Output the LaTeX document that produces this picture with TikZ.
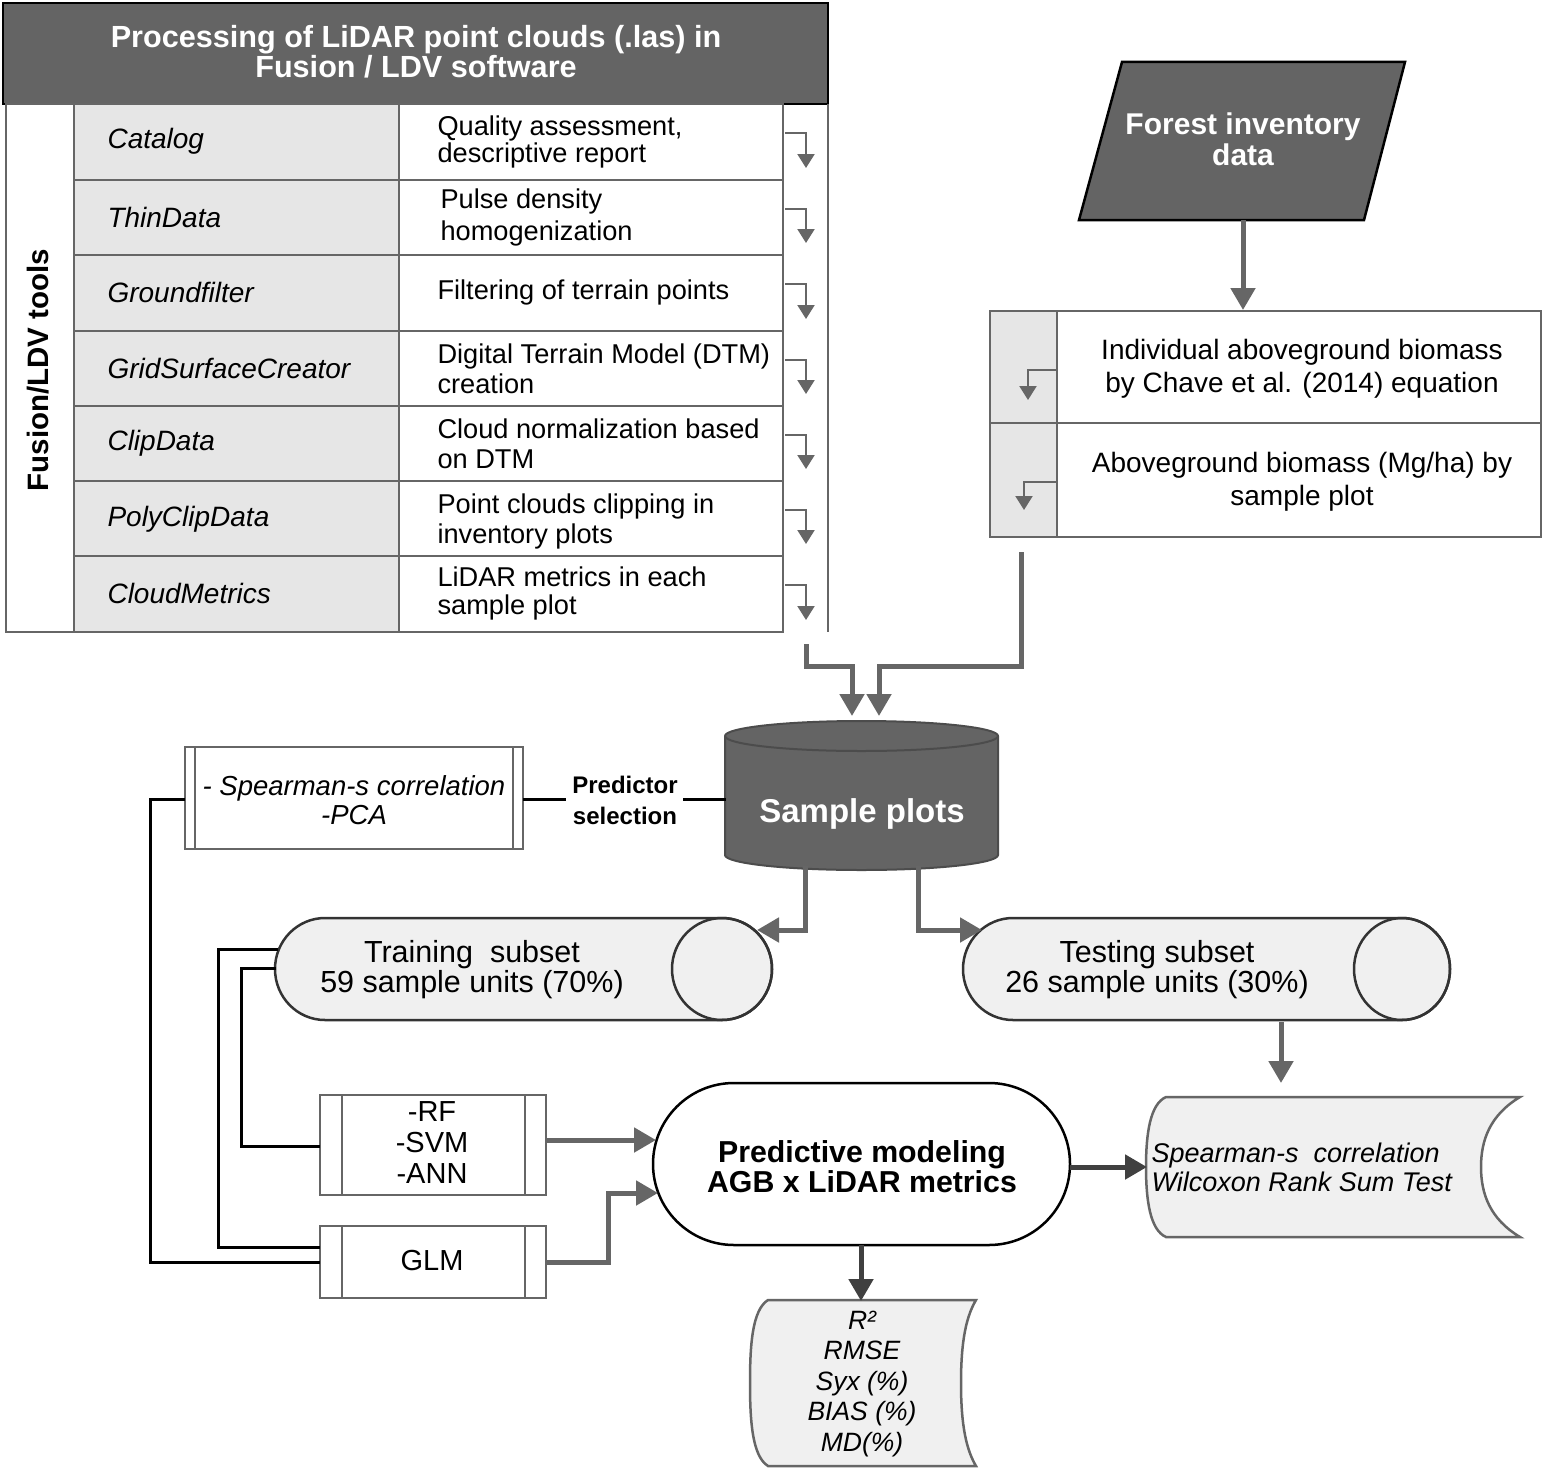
\documentclass[tikz,border=0pt]{standalone}
\usepackage{fontspec}
\setmainfont{Liberation Sans}
\usetikzlibrary{arrows.meta}
\definecolor{dk}{HTML}{646464}
\definecolor{lg}{HTML}{E6E6E6}
\definecolor{vl}{HTML}{F0F0F0}
\definecolor{ln}{HTML}{666666}
\definecolor{da}{HTML}{404040}
\newcommand\fsz[2]{\fontsize{#1pt}{#2pt}\selectfont}
\begin{document}
\begin{tikzpicture}[x=1pt,y=-1pt,
  tline/.style={draw=ln,line width=2.5pt},
  tarrow/.style={draw=ln,line width=2.2pt,-{Triangle[width=17pt,length=14pt]}},
  bigarrow/.style={draw=ln,line width=5pt,-{Triangle[width=24pt,length=22pt]}},
  darrow/.style={draw=da,line width=5pt,-{Triangle[width=24pt,length=22pt]}},
  bline/.style={draw=black,line width=3pt},
  pbox/.style={draw=ln,line width=2.5pt,fill=white},
  doc/.style={draw=ln,line width=2.5pt,fill=vl},
  tube/.style={draw=black!80,line width=2.5pt,fill=vl},
  tooltxt/.style={anchor=west,font=\fsz{28}{31}\itshape},
  desctxt/.style={anchor=west,align=left,font=\fsz{27.2}{30}},
]
\useasboundingbox (0,0) rectangle (1544,1469);
\fill[white] (0,0) rectangle (1544,1469);

% ---------- header ----------
\draw[fill=dk,draw=black,line width=2.5pt] (3,3) rectangle (828,104);
\node[name=head,text=white,align=center,font=\bfseries\fsz{30.6}{30}] at (416,52)
  {Processing of LiDAR point clouds (.las) in\\Fusion / LDV software};

% ---------- table ----------
\fill[lg] (74,104) rectangle (399,632);
\draw[tline] (6,104) rectangle (74,632);
\draw[tline] (74,104) rectangle (399,632);
\draw[tline] (399,104) rectangle (783,632);
\draw[tline] (828,104) -- (828,632);
\foreach \yy in {180,255,331,406,481,556} {
  \draw[tline] (74,\yy) -- (783,\yy);
}
\node[name=fusion,rotate=90,font=\bfseries\fsz{29.5}{29}] at (38,370) {Fusion/LDV tools};

\node[tooltxt,name=t1] at (104,141) {Catalog};
\node[tooltxt,name=t2] at (104,217) {ThinData};
\node[tooltxt,name=t3] at (104,292) {Groundfilter};
\node[tooltxt,name=t4] at (104,368) {GridSurfaceCreator};
\node[tooltxt,name=t5] at (104,443) {ClipData};
\node[tooltxt,name=t6] at (104,519) {PolyClipData};
\node[tooltxt,name=t7] at (104,593) {CloudMetrics};

\node[desctxt,name=d1] at (434,142) {Quality assessment,\\[-3pt]descriptive report};
\node[desctxt,name=d2] at (437,217) {Pulse density\\[2pt]homogenization};
\node[desctxt,name=d3] at (434,292) {Filtering of terrain points};
\node[desctxt,name=d4] at (434,369) {Digital Terrain Model (DTM)\\creation};
\node[desctxt,name=d5] at (434,444) {Cloud normalization based\\on DTM};
\node[desctxt,name=d6] at (434,521) {Point clouds clipping in\\inventory plots};
\node[desctxt,name=d7] at (434,593) {LiDAR metrics in each\\[-2pt]sample plot};

\foreach \tp/\bt [count=\i] in {104/180,180/255,255/331,331/406,406/481,481/556,556/632} {
  \coordinate (as\i) at (785,\tp+29);
  \coordinate (ae\i) at (806,\bt-12);
  \draw[tarrow] (as\i) -| (ae\i);
}

% ---------- forest inventory ----------
\draw[fill=dk,draw=black,line width=2.5pt] (1122,62) -- (1405,62) -- (1364,220) -- (1079,220) -- cycle;
\node[name=forest,text=white,align=center,font=\bfseries\fsz{30}{31}] at (1243,139)
  {Forest inventory\\data};
\coordinate (fs) at (1243,220);
\coordinate (fe) at (1243,310);
\draw[bigarrow] (fs) -- (fe);

% ---------- biomass box ----------
\fill[lg] (990,311) rectangle (1057,537);
\draw[tline] (990,311) rectangle (1541,537);
\draw[tline] (1057,311) -- (1057,537);
\draw[tline] (990,423) -- (1541,423);
\node[name=b1,align=center,font=\fsz{28}{33}] at (1302,369)
  {Individual aboveground biomass\\by Chave et al. (2014) equation};
\node[name=b2,align=center,font=\fsz{28}{33}] at (1302,482)
  {Aboveground biomass (Mg/ha) by\\sample plot};
\coordinate (bs1) at (1057,370); \coordinate (be1) at (1028,400);
\coordinate (bs2) at (1057,482); \coordinate (be2) at (1024,510);
\draw[tarrow] (bs1) -| (be1);
\draw[tarrow] (bs2) -| (be2);

% ---------- sample plots cylinder ----------
\draw[fill=dk,draw=black!70,line width=2pt] (725,736) -- (725,855)
  arc[start angle=180,end angle=360,x radius=136.5pt,y radius=15pt] -- (998,736)
  arc[start angle=0,end angle=180,x radius=136.5pt,y radius=15pt] -- cycle;
\draw[draw=black!70,line width=2pt] (725,736) arc[start angle=180,end angle=360,x radius=136.5pt,y radius=15pt];
\node[name=sample,text=white,font=\bfseries\fsz{33}{33}] at (862,814) {Sample plots};

% connectors into the cylinder
\coordinate (ls) at (806,644); \coordinate (lm) at (806,666); \coordinate (le) at (852,716);
\draw[bigarrow] (ls) -- (lm) -| (le);
\coordinate (rs) at (1021,552); \coordinate (rm) at (1021,666); \coordinate (re) at (879,716);
\draw[bigarrow] (rs) -- (rm) -| (re);

% ---------- predictor selection ----------
\draw[pbox] (185,747) rectangle (523,849);
\draw[draw=ln,line width=2.5pt] (195,747) -- (195,849) (513,747) -- (513,849);
\node[name=pred,align=center,font=\itshape\fsz{27.5}{29}] at (354,800)
  {- Spearman-s correlation\\-PCA};
\node[name=psel,align=center,font=\bfseries\fsz{24}{31}] at (625,800) {Predictor\\selection};
\coordinate (p1) at (523,799); \coordinate (p2) at (566,799);
\coordinate (p3) at (683,799); \coordinate (p4) at (726,799);
\draw[bline] (p1) -- (p2);
\draw[bline] (p3) -- (p4);

% ---------- training / testing subsets ----------
\draw[tube] (325,918) -- (722,918) arc[start angle=90,end angle=-90,x radius=50pt,y radius=51pt]
  -- (325,1020) arc[start angle=270,end angle=90,x radius=50pt,y radius=51pt] -- cycle;
\draw[draw=black!80,line width=2.5pt] (722,969) ellipse[x radius=50pt,y radius=51pt];
\node[name=train,align=center,font=\fsz{30.5}{30}] at (472,970)
  {Training\ \ subset\\59 sample units (70\%)};

\draw[tube] (1013,918) -- (1402,918) arc[start angle=90,end angle=-90,x radius=48pt,y radius=51pt]
  -- (1013,1020) arc[start angle=270,end angle=90,x radius=50pt,y radius=51pt] -- cycle;
\draw[draw=black!80,line width=2.5pt] (1402,969) ellipse[x radius=48pt,y radius=51pt];
\node[name=test,align=center,font=\fsz{30.5}{30}] at (1157,970)
  {Testing subset\\26 sample units (30\%)};

\coordinate (c1) at (805,866); \coordinate (c2) at (805,930); \coordinate (c3) at (757,930);
\draw[bigarrow] (c1) -- (c2) -- (c3);
\coordinate (c4) at (918,866); \coordinate (c5) at (918,930); \coordinate (c6) at (982,930);
\draw[bigarrow] (c4) -- (c5) -- (c6);

% ---------- model boxes ----------
\draw[pbox] (320,1095) rectangle (546,1195);
\draw[draw=ln,line width=2.5pt] (342,1095) -- (342,1195) (525,1095) -- (525,1195);
\node[name=rf,align=center,font=\fsz{29}{31}] at (432,1143) {-RF\\-SVM\\-ANN};
\draw[pbox] (320,1226) rectangle (546,1298);
\draw[draw=ln,line width=2.5pt] (342,1226) -- (342,1298) (525,1226) -- (525,1298);
\node[name=glm,font=\fsz{29}{31}] at (432,1261) {GLM};

% black connectors on the left
\coordinate (k1) at (185,799); \coordinate (k2) at (150,1262); \coordinate (k3) at (320,1262);
\draw[bline] (k1) -| (k2) -- (k3);
\coordinate (k4) at (278,949); \coordinate (k5) at (218,1247); \coordinate (k6) at (320,1247);
\draw[bline] (k4) -| (k5) -- (k6);
\coordinate (k7) at (276,968); \coordinate (k8) at (241,1146); \coordinate (k9) at (320,1146);
\draw[bline] (k7) -| (k8) -- (k9);

% ---------- predictive modeling ----------
\draw[draw=black,line width=2.5pt,fill=white,rounded corners=81pt] (653,1083) rectangle (1070,1245);
\node[name=model,align=center,font=\bfseries\fsz{30.3}{30}] at (862,1167)
  {Predictive modeling\\AGB x LiDAR metrics};

\coordinate (m1) at (546,1140); \coordinate (m2) at (656,1140);
\draw[bigarrow] (m1) -- (m2);
\coordinate (g1) at (546,1262); \coordinate (g2) at (608,1262); \coordinate (g3) at (658,1193);
\draw[bigarrow] (g1) -- (g2) |- (g3);

% ---------- output documents ----------
\draw[doc] (1166,1097) -- (1520,1097) .. controls (1490,1115) and (1481,1140) .. (1481,1167)
  .. controls (1481,1194) and (1490,1219) .. (1520,1237) -- (1166,1237)
  .. controls (1150,1230) and (1146,1200) .. (1146,1167)
  .. controls (1146,1134) and (1150,1104) .. (1166,1097) -- cycle;
\node[name=stat,anchor=west,align=left,font=\itshape\fsz{27}{29}] at (1148,1167)
  {Spearman-s\ \ correlation\\Wilcoxon Rank Sum Test};

\draw[doc] (768,1300) -- (976,1300) .. controls (964,1320) and (961,1350) .. (961,1383)
  .. controls (961,1416) and (964,1446) .. (976,1466) -- (768,1466)
  .. controls (752,1456) and (750,1420) .. (750,1383)
  .. controls (750,1346) and (752,1310) .. (768,1300) -- cycle;
\node[name=metrics,align=center,font=\itshape\fsz{26.5}{30.5}] at (862,1384)
  {R²\\RMSE\\Syx (\%)\\BIAS (\%)\\MD(\%)};

\coordinate (o1) at (1070,1167); \coordinate (o2) at (1147,1167);
\draw[darrow] (o1) -- (o2);
\coordinate (o3) at (861,1245); \coordinate (o4) at (861,1301);
\draw[darrow] (o3) -- (o4);
\coordinate (o5) at (1281,1022); \coordinate (o6) at (1281,1083);
\draw[bigarrow] (o5) -- (o6);
\end{tikzpicture}
\end{document}
